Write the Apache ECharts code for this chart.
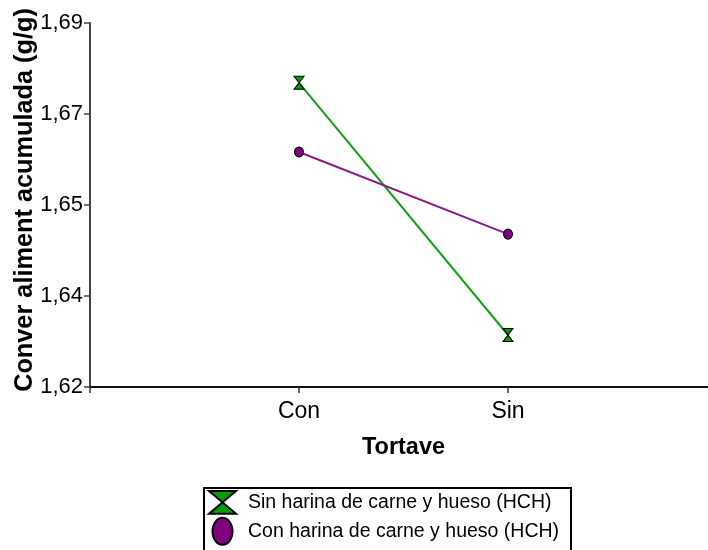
<!DOCTYPE html>
<html>
<head>
<meta charset="utf-8">
<script src="https://cdn.jsdelivr.net/npm/echarts@6/dist/echarts.min.js"></script>
<style>
html,body{margin:0;padding:0;background:#fff;}
#c{width:708px;height:550px;}
</style>
</head>
<body>
<div id="c"></div>
<script>
var categories = ['Con', 'Sin'];
var seriesNames = ['Sin harina de carne y hueso (HCH)', 'Con harina de carne y hueso (HCH)'];
var sinHCH = [1.6785, 1.6300];
var conHCH = [1.6652, 1.6494];
var yTickLabels = ['1,62', '1,64', '1,65', '1,67', '1,69'];
var yMin = 1.62, yMax = 1.69, yStep = 0.0175;

var FONT = "'Liberation Sans', Arial, sans-serif";
var axisCats = [''].concat(categories).concat(['']);
function pad(arr) { return [null].concat(arr).concat([null]); }

var hourglass = 'path://M0,0L10,0L0,13L10,13Z';
var hourglassLegend = 'path://M0,0L26,0L0,22L26,22Z';
var ellipseLegend = 'path://M10,0A10,13.5 0 1,1 10,27A10,13.5 0 1,1 10,0Z';

var chart = echarts.init(document.getElementById('c'), null, {renderer: 'canvas'});
chart.setOption({
  animation: false,
  backgroundColor: '#fff',
  textStyle: {fontFamily: FONT},
  grid: {left: 90, top: 23, width: 627, height: 364, containLabel: false, outerBoundsMode: 'none'},
  xAxis: {
    type: 'category',
    data: axisCats,
    boundaryGap: false,
    name: 'Tortave',
    nameLocation: 'middle',
    nameGap: 49,
    nameMoveOverlap: false,
    nameTextStyle: {fontFamily: FONT, fontSize: 23.5, fontWeight: 'bold', color: '#000'},
    axisLine: {show: true, lineStyle: {color: '#111', width: 2}},
    axisTick: {show: true, alignWithLabel: true, length: 6, lineStyle: {color: '#333', width: 1.5}},
    axisLabel: {show: true, fontFamily: FONT, fontSize: 23, color: '#000', margin: 13, interval: 0},
    splitLine: {show: false}
  },
  yAxis: {
    type: 'value',
    min: yMin,
    max: yMax,
    interval: yStep,
    name: 'Conver aliment acumulada (g/g)',
    nameLocation: 'middle',
    nameRotate: 90,
    nameGap: 52,
    nameMoveOverlap: false,
    nameTextStyle: {fontFamily: FONT, fontSize: 25.3, fontWeight: 'bold', color: '#000', padding: [0, 0, 0, 10]},
    axisLine: {show: true, lineStyle: {color: '#444', width: 2}},
    axisTick: {show: true, length: 6, lineStyle: {color: '#444', width: 1.5}},
    axisLabel: {
      fontFamily: FONT, fontSize: 22, color: '#000', margin: 7,
      formatter: function (v) {
        var i = Math.round((v - yMin) / yStep);
        return yTickLabels[i] !== undefined ? yTickLabels[i] : '';
      }
    },
    splitLine: {show: false}
  },
  legend: {
    orient: 'vertical',
    left: 204,
    top: 488,
    padding: [2, 21, 0, 4],
    itemWidth: 27,
    itemHeight: 27,
    itemGap: 2,
    borderWidth: 0,
    textStyle: {fontFamily: FONT, fontSize: 19.5, color: '#000', padding: [0, 0, 0, 7]},
    data: [
      {name: seriesNames[0], icon: hourglassLegend},
      {name: seriesNames[1], icon: ellipseLegend}
    ]
  },
  graphic: [{
    type: 'rect',
    silent: true,
    shape: {x: 204, y: 488, width: 367, height: 100},
    style: {fill: 'none', stroke: '#000', lineWidth: 2}
  }],
  series: [
    {
      name: seriesNames[0],
      type: 'line',
      data: pad(sinHCH),
      connectNulls: false,
      symbol: hourglass,
      symbolSize: [10, 13],
      showSymbol: true,
      lineStyle: {color: '#14a014', width: 2},
      itemStyle: {color: '#00a000', borderColor: '#000', borderWidth: 1}
    },
    {
      name: seriesNames[1],
      type: 'line',
      data: pad(conHCH),
      connectNulls: false,
      symbol: 'circle',
      symbolSize: [9, 10],
      showSymbol: true,
      lineStyle: {color: '#8a1a8a', width: 2},
      itemStyle: {color: '#800080', borderColor: '#000', borderWidth: 1}
    }
  ]
});
</script>
</body>
</html>
